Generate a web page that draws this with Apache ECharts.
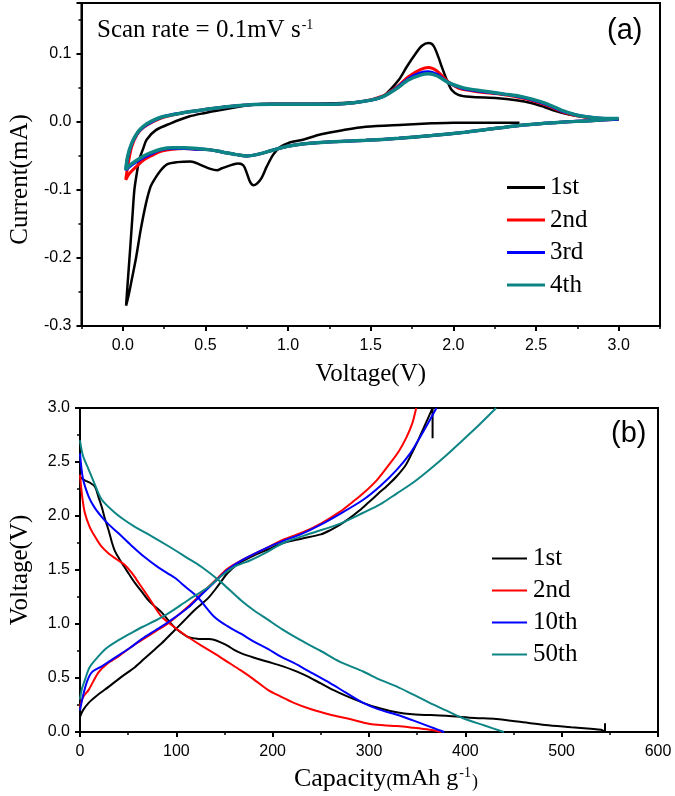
<!DOCTYPE html>
<html>
<head>
<meta charset="utf-8">
<script src="https://cdn.jsdelivr.net/npm/echarts@6/dist/echarts.min.js"></script>
<style>html,body{margin:0;padding:0;background:#fff}#c{width:675px;height:796px}</style>
</head>
<body>
<div id="c"></div>
<script>
// ---------- Panel (a): cyclic voltammetry, [Voltage V, Current mA] ----------
const cvNames = ['1st', '2nd', '3rd', '4th'];
const cv1st = [[2.40,-0.001],[2.2,-0.001],[2.0,-0.001],[1.87,-0.002],[1.7,-0.004],[1.47,-0.007],[1.33,-0.012],[1.2,-0.018],[1.09,-0.026],[1.0,-0.031],[0.95,-0.037],[0.91,-0.048],[0.87,-0.066],[0.84,-0.082],[0.81,-0.091],[0.79,-0.093],[0.77,-0.088],[0.75,-0.075],[0.73,-0.064],[0.70,-0.061],[0.66,-0.063],[0.60,-0.068],[0.57,-0.071],[0.53,-0.069],[0.47,-0.063],[0.41,-0.058],[0.33,-0.059],[0.27,-0.062],[0.23,-0.071],[0.19,-0.085],[0.168,-0.095],[0.14,-0.12],[0.108,-0.159],[0.08,-0.2],[0.054,-0.232],[0.035,-0.255],[0.02,-0.27],
  [0.03,-0.235],[0.045,-0.185],[0.058,-0.14],[0.07,-0.1],[0.085,-0.075],[0.1,-0.055],[0.125,-0.038],[0.144,-0.026],[0.2,-0.012],[0.29,-0.002],[0.4,0.008],[0.49,0.013],[0.6,0.018],[0.77,0.025],[0.9,0.027],[1.1,0.027],[1.33,0.028],[1.5,0.032],[1.57,0.037],[1.62,0.048],[1.67,0.062],[1.72,0.082],[1.77,0.100],[1.81,0.112],[1.85,0.116],[1.88,0.112],[1.91,0.095],[1.93,0.081],[1.96,0.062],[1.99,0.047],[2.03,0.040],[2.1,0.037],[2.27,0.035],[2.38,0.032],[2.47,0.028],[2.55,0.022],[2.62,0.016],[2.7,0.011],[2.8,0.007],[2.9,0.005],[3.0,0.004]];
const cv2nd = [[3.0,0.004],[2.83,0.002],[2.67,0.0],[2.55,-0.002],[2.4,-0.005],[2.2,-0.011],[2.07,-0.015],[1.87,-0.020],[1.67,-0.024],[1.47,-0.027],[1.27,-0.029],[1.1,-0.032],[0.99,-0.036],[0.9,-0.042],[0.81,-0.048],[0.75,-0.050],[0.69,-0.048],[0.6,-0.044],[0.53,-0.041],[0.45,-0.040],[0.37,-0.039],[0.3,-0.040],[0.23,-0.043],[0.17,-0.050],[0.126,-0.056],[0.08,-0.066],[0.04,-0.076],[0.018,-0.085],
  [0.03,-0.065],[0.054,-0.036],[0.09,-0.017],[0.126,-0.008],[0.18,0.0],[0.246,0.007],[0.35,0.013],[0.49,0.018],[0.69,0.024],[0.9,0.026],[1.1,0.026],[1.27,0.026],[1.45,0.030],[1.57,0.038],[1.65,0.050],[1.73,0.067],[1.8,0.077],[1.85,0.080],[1.9,0.075],[1.97,0.059],[2.03,0.050],[2.11,0.046],[2.2,0.043],[2.31,0.040],[2.4,0.036],[2.47,0.032],[2.55,0.026],[2.62,0.019],[2.67,0.014],[2.75,0.009],[2.83,0.006],[2.92,0.005],[3.0,0.004]];
const cv3rd = [[3.0,0.004],[2.83,0.002],[2.67,0.0],[2.55,-0.002],[2.4,-0.005],[2.2,-0.011],[2.07,-0.015],[1.87,-0.020],[1.67,-0.024],[1.47,-0.027],[1.27,-0.029],[1.1,-0.032],[0.99,-0.036],[0.9,-0.042],[0.81,-0.048],[0.75,-0.050],[0.69,-0.048],[0.6,-0.044],[0.53,-0.041],[0.45,-0.040],[0.37,-0.039],[0.3,-0.039],[0.23,-0.041],[0.17,-0.047],[0.126,-0.052],[0.08,-0.059],[0.04,-0.066],[0.018,-0.071],
  [0.03,-0.052],[0.054,-0.032],[0.09,-0.016],[0.126,-0.007],[0.18,0.001],[0.246,0.008],[0.35,0.013],[0.49,0.018],[0.69,0.024],[0.9,0.026],[1.1,0.026],[1.27,0.026],[1.45,0.030],[1.57,0.037],[1.65,0.049],[1.73,0.064],[1.8,0.072],[1.85,0.074],[1.9,0.070],[1.97,0.058],[2.05,0.050],[2.11,0.047],[2.2,0.044],[2.31,0.041],[2.4,0.037],[2.47,0.033],[2.55,0.027],[2.62,0.020],[2.67,0.015],[2.75,0.010],[2.83,0.007],[2.92,0.005],[3.0,0.004]];
const cv4th = [[3.0,0.005],[2.83,0.002],[2.67,0.0],[2.55,-0.002],[2.4,-0.005],[2.2,-0.011],[2.07,-0.015],[1.87,-0.020],[1.67,-0.024],[1.47,-0.027],[1.27,-0.029],[1.1,-0.032],[0.99,-0.036],[0.9,-0.042],[0.81,-0.048],[0.75,-0.050],[0.69,-0.048],[0.6,-0.044],[0.53,-0.041],[0.45,-0.039],[0.37,-0.038],[0.3,-0.038],[0.23,-0.040],[0.17,-0.045],[0.126,-0.050],[0.08,-0.057],[0.04,-0.064],[0.018,-0.070],
  [0.03,-0.050],[0.054,-0.031],[0.09,-0.015],[0.126,-0.006],[0.18,0.002],[0.246,0.008],[0.35,0.013],[0.49,0.018],[0.69,0.024],[0.9,0.026],[1.1,0.026],[1.27,0.026],[1.45,0.030],[1.57,0.037],[1.65,0.048],[1.73,0.062],[1.8,0.069],[1.85,0.071],[1.9,0.068],[1.97,0.058],[2.05,0.051],[2.11,0.048],[2.2,0.045],[2.31,0.041],[2.4,0.038],[2.47,0.034],[2.55,0.028],[2.62,0.021],[2.67,0.016],[2.75,0.010],[2.83,0.007],[2.92,0.005],[3.0,0.005]];

// ---------- Panel (b): charge/discharge, [Capacity mAh/g, Voltage V] ----------
const gcNames = ['1st', '2nd', '10th', '50th'];
const dis1st = [[0,2.36],[5,2.33],[10,2.31],[15.5,2.27],[19,2.18],[22.7,2.08],[26,1.97],[29.6,1.87],[33,1.76],[36,1.68],[41,1.60],[46,1.53],[51,1.46],[57,1.38],[64,1.30],[71,1.22],[78,1.16],[84.5,1.11],[91,1.04],[98,0.97],[105,0.92],[112,0.88],[120,0.865],[126,0.86],[133,0.86],[139,0.855],[146,0.83],[153,0.80],[160,0.76],[167,0.73],[180,0.69],[195,0.65],[210,0.61],[222,0.57],[235,0.52],[250,0.45],[265,0.38],[280,0.32],[294,0.27],[311,0.22],[330,0.18],[345,0.165],[380,0.15],[410,0.13],[432,0.12],[460,0.09],[483,0.065],[510,0.045],[530,0.03],[541,0.02],[545,0.0],[545,0.08]];
const chg1st = [[0,0.14],[3,0.20],[9,0.27],[18,0.34],[30,0.42],[43,0.51],[57,0.60],[67,0.68],[77,0.76],[88,0.85],[98,0.94],[108,1.03],[119,1.13],[133,1.24],[143,1.35],[153,1.47],[163,1.55],[177,1.62],[195,1.69],[211,1.75],[230,1.79],[250,1.83],[260,1.87],[270,1.92],[280,1.98],[290,2.05],[300,2.13],[310,2.21],[320,2.29],[329,2.37],[338,2.47],[345,2.59],[351,2.70],[356,2.80],[361,2.90],[366,3.0],[366,2.72]];
const dis2nd = [[0,2.38],[2,2.20],[5,2.03],[10,1.90],[15.5,1.81],[22,1.72],[30,1.65],[38,1.60],[46,1.55],[54,1.47],[61,1.38],[71,1.25],[84.5,1.07],[98,0.97],[112,0.88],[126,0.80],[139,0.73],[153,0.65],[167,0.57],[180,0.49],[195,0.39],[208,0.33],[222,0.27],[240,0.21],[260,0.16],[280,0.12],[301,0.074],[315,0.062],[329,0.055],[345,0.04],[363,0.02],[375,0.0]];
const chg2nd = [[0,0.23],[3,0.32],[9,0.39],[19,0.55],[28,0.63],[40,0.70],[52,0.78],[64,0.85],[78,0.93],[92,1.01],[112,1.16],[126,1.28],[140,1.40],[153,1.51],[170,1.60],[195,1.71],[211,1.78],[229,1.84],[250,1.93],[270,2.04],[283,2.13],[294,2.21],[308,2.33],[322,2.49],[331,2.60],[339,2.73],[345,2.86],[349,3.0]];
const dis10th = [[0,2.58],[3,2.35],[9,2.18],[15,2.08],[22.7,1.99],[30,1.92],[40,1.84],[53,1.73],[67,1.62],[82,1.52],[98,1.43],[110,1.34],[122,1.25],[139,1.07],[153,0.98],[167,0.91],[180,0.84],[195,0.77],[208,0.70],[222,0.64],[240,0.55],[260,0.45],[275,0.37],[294,0.27],[310,0.21],[329,0.16],[345,0.11],[363,0.05],[372,0.02],[378,0.0]];
const chg10th = [[0,0.20],[3,0.33],[7,0.46],[12,0.55],[23,0.61],[40,0.71],[52,0.78],[64,0.86],[78,0.94],[92,1.02],[112,1.15],[126,1.27],[140,1.39],[153,1.50],[170,1.60],[195,1.71],[211,1.77],[229,1.83],[250,1.92],[270,2.02],[294,2.15],[312,2.28],[329,2.43],[342,2.57],[353,2.73],[362,2.87],[370,3.0]];
const dis50th = [[0,2.70],[3,2.56],[9,2.43],[15,2.30],[22.7,2.15],[35,2.04],[45,1.97],[57,1.90],[75,1.81],[92,1.72],[110,1.62],[126,1.53],[146,1.39],[167,1.22],[180,1.13],[195,1.04],[210,0.95],[229,0.85],[250,0.75],[270,0.65],[294,0.56],[310,0.49],[329,0.42],[345,0.35],[363,0.27],[380,0.20],[397,0.13],[420,0.06],[440,0.0]];
const chg50th = [[0,0.30],[2,0.40],[5,0.48],[10,0.60],[19,0.70],[28,0.78],[40,0.85],[52,0.91],[64,0.97],[78,1.03],[92,1.10],[112,1.22],[133,1.34],[146,1.44],[160,1.53],[177,1.59],[195,1.67],[211,1.75],[240,1.84],[270,1.93],[294,2.03],[312,2.11],[329,2.21],[346,2.31],[363,2.43],[380,2.56],[397,2.70],[415,2.85],[432,3.0]];

const voltTicksA = [0, 0.5, 1.0, 1.5, 2.0, 2.5, 3.0];

const SERIF = 'Liberation Serif';
const SANS = 'Liberation Sans';
const cvColors = ['#000000', '#ff0000', '#0000ff', '#0e8585'];
const cvWidths = [2.5, 3, 3, 3.5];
const gcColors = ['#000000', '#ff0000', '#0000ff', '#0e8585'];

const chart = echarts.init(document.getElementById('c'), null, {renderer: 'canvas'});

const tickLbl = {fontFamily: SANS, fontSize: 16, color: '#000', margin: 10};
const xTickLbl = Object.assign({}, tickLbl, {margin: 12});
const axLine = {show: true, onZero: false, lineStyle: {color: '#000', width: 2}};
const majTick = {show: true, length: 5, lineStyle: {color: '#000', width: 2}};
const minTick = {show: true, splitNumber: 2, length: 3, lineStyle: {color: '#000', width: 1.5}};
const nameStyle = {fontFamily: SERIF, fontSize: 25, color: '#000'};

const cvData = [cv1st, cv2nd, cv3rd, cv4th];
const gcPairs = [[dis1st, chg1st], [dis2nd, chg2nd], [dis10th, chg10th], [dis50th, chg50th]];

const series = [];
cvData.forEach((d, i) => {
  series.push({
    type: 'line', name: cvNames[i], xAxisIndex: 0, yAxisIndex: 0, data: d,
    showSymbol: false, smooth: 0.3, animation: false,
    lineStyle: {color: cvColors[i], width: cvWidths[i]}, itemStyle: {color: cvColors[i]}
  });
});
gcPairs.forEach((pair, i) => {
  pair.forEach(d => {
    series.push({
      type: 'line', name: gcNames[i], xAxisIndex: 2, yAxisIndex: 1, data: d,
      showSymbol: false, smooth: 0.3, animation: false,
      lineStyle: {color: gcColors[i], width: 2}, itemStyle: {color: gcColors[i]}
    });
  });
});

const option = {
  backgroundColor: '#fff',
  animation: false,
  grid: [
    {left: 78, top: 3, width: 582, height: 323, show: true, borderColor: '#000', borderWidth: 2, backgroundColor: 'transparent'},
    {left: 78, top: 408, width: 580, height: 324, show: true, borderColor: '#000', borderWidth: 2, backgroundColor: 'transparent'}
  ],
  xAxis: [
    {type: 'value', gridIndex: 0, position: 'bottom', min: -0.25, max: 3.25, interval: 0.25,
     axisLine: axLine, axisTick: {show: true, length: 3, lineStyle: {color: '#000', width: 1.5}},
     axisLabel: {show: false}, splitLine: {show: false}},
    {type: 'value', gridIndex: 0, position: 'bottom', min: -0.25, max: 3.25,
     axisLine: {show: false, onZero: false},
     axisTick: Object.assign({}, majTick, {customValues: voltTicksA}),
     axisLabel: Object.assign({}, xTickLbl, {customValues: voltTicksA, formatter: v => v.toFixed(1)}),
     splitLine: {show: false},
     name: 'Voltage(V)', nameLocation: 'middle', nameGap: 36, nameTextStyle: nameStyle},
    {type: 'value', gridIndex: 1, position: 'bottom', min: 0, max: 600, interval: 100,
     axisLine: axLine, axisTick: majTick, minorTick: minTick,
     axisLabel: Object.assign({}, xTickLbl, {formatter: v => String(v)}),
     splitLine: {show: false}, minorSplitLine: {show: false},
     name: '{c|Capacity}{p|(}{m|mAh g}{s|-1}{p|)}', nameLocation: 'middle', nameGap: 34,
     nameTextStyle: {fontFamily: SERIF, color: '#000', padding: [0, 0, 0, 34], rich: {
       c: {fontFamily: SERIF, fontSize: 26, color: '#000'},
       p: {fontFamily: SERIF, fontSize: 18, color: '#000', padding: [6, 0, 0, 0]},
       m: {fontFamily: SERIF, fontSize: 24, color: '#000'},
       s: {fontFamily: SERIF, fontSize: 14, color: '#000', verticalAlign: 'top', padding: [0, 1, 10, 1]}
     }}}
  ],
  yAxis: [
    {type: 'value', gridIndex: 0, position: 'left', min: -0.3, max: 0.175, interval: 0.1,
     axisLine: axLine, axisTick: majTick, minorTick: minTick,
     axisLabel: Object.assign({}, tickLbl, {showMaxLabel: false, formatter: v => v.toFixed(1)}),
     splitLine: {show: false}, minorSplitLine: {show: false},
     name: 'Current(mA)', nameLocation: 'middle', nameGap: 47, nameRotate: 90,
     nameTextStyle: Object.assign({}, nameStyle, {padding: [0, 30, 0, 0]})},
    {type: 'value', gridIndex: 1, position: 'left', min: 0, max: 3, interval: 0.5,
     axisLine: axLine, axisTick: majTick, minorTick: minTick,
     axisLabel: Object.assign({}, tickLbl, {formatter: v => v.toFixed(1)}),
     splitLine: {show: false}, minorSplitLine: {show: false},
     name: 'Voltage(V)', nameLocation: 'middle', nameGap: 47, nameRotate: 90,
     nameTextStyle: nameStyle}
  ],
  legend: [
    {data: cvNames, orient: 'vertical', left: 507, top: 175, padding: 0, icon: 'rect', itemWidth: 38, itemHeight: 3,
     itemGap: 7.5, selectedMode: false, textStyle: {fontFamily: SERIF, fontSize: 25, color: '#000', lineHeight: 24, padding: [0, 0, 0, 0]}},
    {data: gcNames, orient: 'vertical', left: 492, top: 546, padding: 0, icon: 'rect', itemWidth: 35, itemHeight: 2,
     itemGap: 7, selectedMode: false, textStyle: {fontFamily: SERIF, fontSize: 25, color: '#000', lineHeight: 24, padding: [0, 0, 0, 1]}}
  ],
  graphic: [
    {type: 'text', left: 97, top: 18, z: 10, style: {
      text: '{a|Scan rate = 0.1mV s}{b|-1}',
      rich: {
        a: {fontFamily: SERIF, fontSize: 25, fill: '#000'},
        b: {fontFamily: SERIF, fontSize: 14, fill: '#000', verticalAlign: 'top', padding: [0, 0, 10, 1]}
      }}},
    {type: 'text', left: 607, top: 16, z: 10, style: {text: '(a)', fontFamily: SANS, fontSize: 29, fill: '#000'}},
    {type: 'text', left: 611, top: 419, z: 10, style: {text: '(b)', fontFamily: SANS, fontSize: 29, fill: '#000'}}
  ],
  series: series
};
chart.setOption(option);
</script>
</body>
</html>
